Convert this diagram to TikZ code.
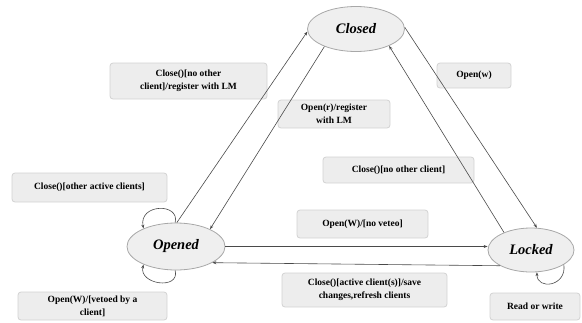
\documentclass[tikz,border=0pt]{standalone}
\usepackage{fontspec}
\setmainfont{Liberation Serif}
\usetikzlibrary{shapes.geometric,arrows.meta}
\definecolor{lblfill}{HTML}{EDEDED}
\definecolor{lbldraw}{HTML}{D2D2D2}
\definecolor{stfill}{HTML}{EFEFEF}
\definecolor{stdraw}{HTML}{A8A8A8}
\definecolor{edge}{HTML}{4A4A4A}
\tikzset{
  state/.style={ellipse, draw=stdraw, fill=stfill, line width=0.8pt, inner sep=0pt,
    font=\fontsize{14.5}{16}\selectfont\bfseries\itshape},
  lbl/.style={rectangle, rounded corners=3pt, draw=lbldraw, fill=lblfill, line width=0.8pt,
    inner sep=0pt, align=center, font=\fontsize{9.5}{13}\selectfont\bfseries},
  tr/.style={draw=edge, line width=0.6pt, -{Stealth[length=4pt,width=3pt]}}
}
\begin{document}
\begin{tikzpicture}[x=1pt,y=-1pt]
\useasboundingbox (0,0) rectangle (582,322);
% states
\node[state, minimum width=97pt, minimum height=45pt] (closed) at (356,29) {Closed};
\node[state, minimum width=98pt, minimum height=47pt] (opened) at (176,246.5) {Opened};
\node[state, minimum width=86pt, minimum height=44pt] (locked) at (531,250) {Locked};
% labels
\node[lbl, minimum width=157pt, minimum height=36pt] (l1) at (188.5,81) {Close()[no other\\client]/register with LM};
\node[lbl, minimum width=112pt, minimum height=28pt] (l2) at (334,114) {Open(r)/register\\with LM};
\node[lbl, minimum width=74pt, minimum height=25pt] (l3) at (474,75.5) {Open(w)};
\node[lbl, minimum width=151pt, minimum height=26pt] (l4) at (398.5,170) {Close()[no other client]};
\node[lbl, minimum width=131pt, minimum height=28pt] (l5) at (362.5,224) {Open(W)/[no veteo]};
\node[lbl, minimum width=165pt, minimum height=34pt] (l6) at (364.5,290) {Close()[active client(s)]/save\\changes,refresh clients};
\node[lbl, minimum width=155pt, minimum height=29pt] (l7) at (89.5,187.5) {Close()[other active clients]};
\node[lbl, minimum width=149pt, minimum height=28pt] (l8) at (92.5,306) {Open(W)/[vetoed by a\\client]};
\node[lbl, minimum width=90pt, minimum height=27pt] (l9) at (535,306.5) {Read or write};
% transitions
\draw[tr] (opened.88) -- (closed.183);
\draw[tr] (closed.209) -- (opened.27);
\draw[tr] (closed.2) -- (locked.75);
\draw[tr] (locked.147) -- (closed.333);
\draw[tr] (opened.east) -- (locked.west |- opened.east);
\draw[tr] (locked.207) -- (opened.336);
\draw[tr] (opened.92) .. controls +(5,-20) and +(-5,-25) .. (opened.151);
\draw[tr] (opened.268) .. controls +(5,20) and +(-5,20) .. (opened.209);
\draw[tr] (locked.336) .. controls +(3,22) and +(0,18) .. (locked.285);
\end{tikzpicture}
\end{document}
